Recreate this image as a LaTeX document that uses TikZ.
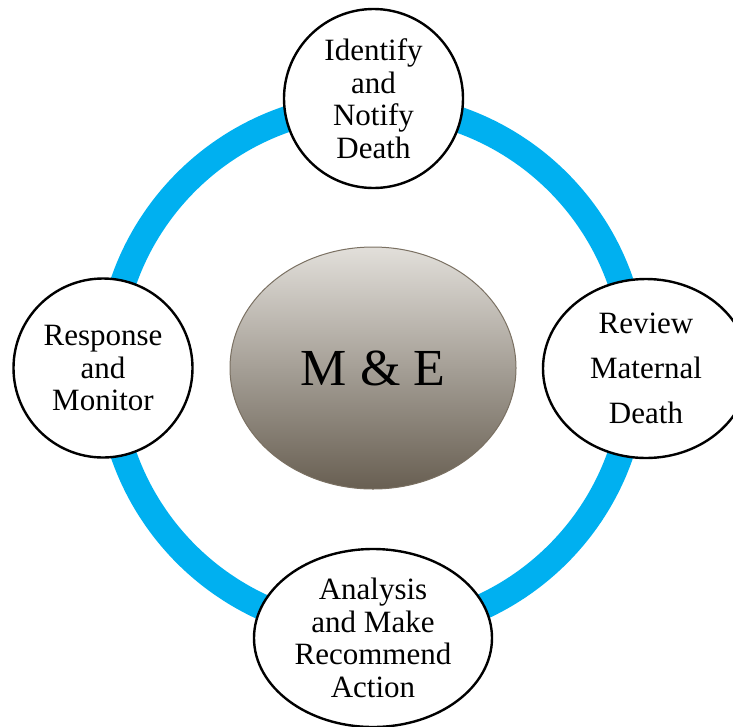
\documentclass[tikz,border=0pt]{standalone}
\usepackage{fontspec}
\setmainfont{Liberation Serif}
\usetikzlibrary{shapes.geometric,positioning,calc}

\definecolor{ringblue}{RGB}{0,176,240}
\definecolor{hubtop}{RGB}{226,223,218}
\definecolor{hubmid}{RGB}{184,175,164}
\definecolor{hubbot}{RGB}{104,95,82}
\definecolor{hubline}{RGB}{122,112,98}

\begin{document}
\begin{tikzpicture}[x=1pt,y=-1pt,
        stage/.style={draw=black,line width=2.4pt,fill=white,align=center,inner sep=0pt,
            font=\fontsize{31}{32.5}\selectfont},
        core/.style={ellipse,draw=hubline,line width=1pt,top color=hubtop,middle color=hubmid,
            bottom color=hubbot,inner sep=0pt,font=\fontsize{52}{56}\selectfont},
        ring/.style={draw=ringblue,line width=26pt}]
        \useasboundingbox (0,0) rectangle (733,726);
        \clip (0,0) rectangle (733,726);

        \coordinate (hub) at (372,368);
        \node[core,minimum width=286,minimum height=242] (me) at (373,368) {M \& E};
        \draw[ring] (hub) circle[radius=263];

        \node[stage,circle,minimum size=179] (identify) at (373.5,98.5) {Identify\\and\\Notify\\Death};
        \node[stage,ellipse,minimum width=206,minimum height=179,
            font=\fontsize{31}{45}\selectfont] (review) at (646,368.5) {Review\\Maternal\\Death};
        \node[stage,ellipse,minimum width=238,minimum height=178] (analysis) at (373,638)
            {Analysis\\and Make\\Recommend\\Action};
        \node[stage,circle,minimum size=179] (response) at (103,368) {Response\\and\\Monitor};
    \end{tikzpicture}
\end{document}
